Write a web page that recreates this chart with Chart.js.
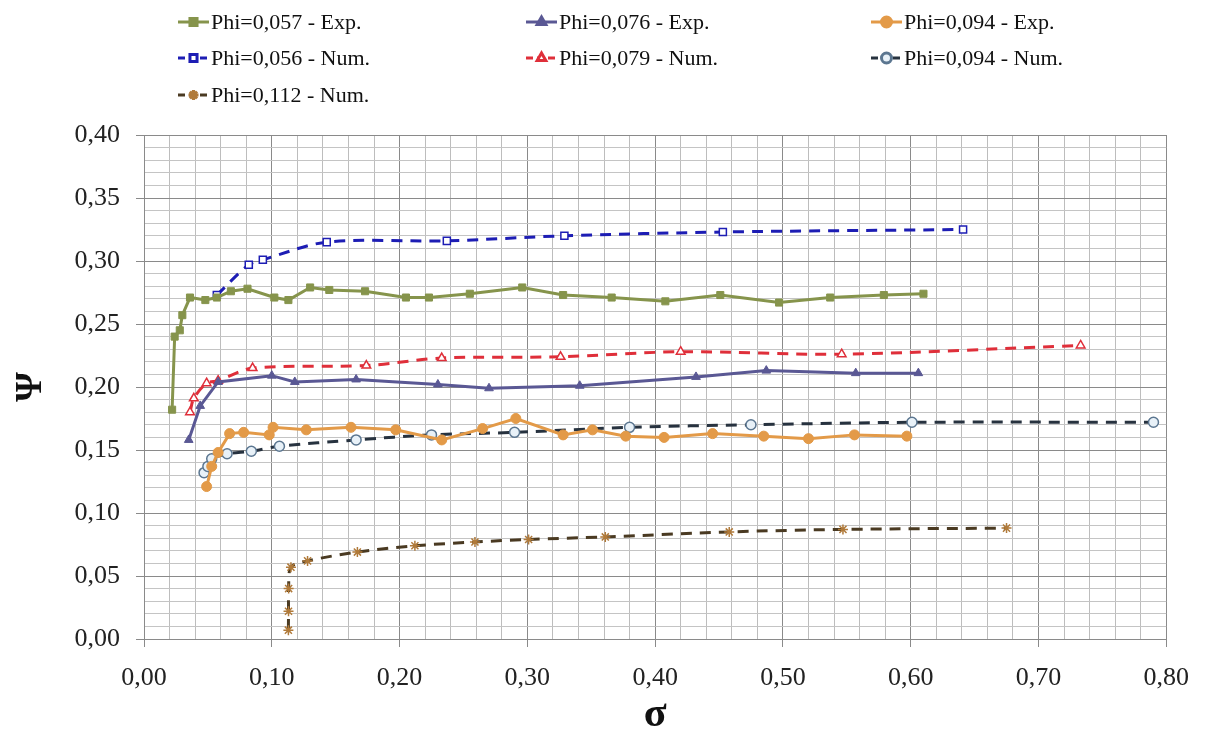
<!DOCTYPE html>
<html>
<head>
<meta charset="utf-8">
<script src="https://cdn.jsdelivr.net/npm/chart.js@4.4.1/dist/chart.umd.min.js"></script>
<style>
  html, body { margin: 0; padding: 0; background: #fff; }
  #wrap { position: relative; width: 1205px; height: 736px; }
</style>
</head>
<body>
<div id="wrap"><canvas id="psi"></canvas></div>
<script>
// series labels (legend order)
var labels = ['Phi=0,057 - Exp.', 'Phi=0,076 - Exp.', 'Phi=0,094 - Exp.',
              'Phi=0,056 - Num.', 'Phi=0,079 - Num.', 'Phi=0,094 - Num.',
              'Phi=0,112 - Num.'];

//! Phi=0,057 - Exp.
var sig057e = [0.022, 0.024, 0.028, 0.030, 0.036, 0.048, 0.057, 0.068, 0.081, 0.102, 0.113, 0.130, 0.145, 0.173, 0.205, 0.223, 0.255, 0.296, 0.328, 0.366, 0.408, 0.451, 0.497, 0.537, 0.579, 0.610];
var psi057e = [0.182, 0.240, 0.245, 0.257, 0.271, 0.269, 0.271, 0.276, 0.278, 0.271, 0.269, 0.279, 0.277, 0.276, 0.271, 0.271, 0.274, 0.279, 0.273, 0.271, 0.268, 0.273, 0.267, 0.271, 0.273, 0.274];

//! Phi=0,076 - Exp.
var sig076e = [0.035, 0.044, 0.058, 0.100, 0.118, 0.166, 0.230, 0.270, 0.341, 0.432, 0.487, 0.557, 0.606];
var psi076e = [0.158, 0.185, 0.204, 0.209, 0.204, 0.206, 0.202, 0.199, 0.201, 0.208, 0.213, 0.211, 0.211];

//! Phi=0,094 - Exp.
var sig094e = [0.049, 0.053, 0.058, 0.067, 0.078, 0.098, 0.101, 0.127, 0.162, 0.197, 0.233, 0.265, 0.291, 0.328, 0.351, 0.377, 0.407, 0.445, 0.485, 0.520, 0.556, 0.597];
var psi094e = [0.121, 0.137, 0.148, 0.163, 0.164, 0.162, 0.168, 0.166, 0.168, 0.166, 0.158, 0.167, 0.175, 0.162, 0.166, 0.161, 0.160, 0.163, 0.161, 0.159, 0.162, 0.161];

//! Phi=0,056 - Num.
var sig056n = [0.057, 0.082, 0.093, 0.143, 0.237, 0.329, 0.453, 0.641];
var psi056n = [0.273, 0.297, 0.301, 0.315, 0.316, 0.320, 0.323, 0.325];

//! Phi=0,079 - Num.
var sig079n = [0.036, 0.039, 0.049, 0.058, 0.085, 0.174, 0.233, 0.326, 0.420, 0.546, 0.733];
var psi079n = [0.180, 0.191, 0.203, 0.205, 0.215, 0.217, 0.223, 0.224, 0.228, 0.226, 0.233];

//! Phi=0,094 - Num.
var sig094n = [0.047, 0.050, 0.053, 0.065, 0.084, 0.106, 0.166, 0.225, 0.290, 0.380, 0.475, 0.601, 0.790];
var psi094n = [0.132, 0.137, 0.143, 0.147, 0.149, 0.153, 0.158, 0.162, 0.164, 0.168, 0.170, 0.172, 0.172];

//! Phi=0,112 - Num.
var sig112n = [0.113, 0.1131, 0.1132, 0.115, 0.128, 0.167, 0.212, 0.259, 0.301, 0.361, 0.458, 0.547, 0.675];
var psi112n = [0.007, 0.022, 0.040, 0.057, 0.062, 0.069, 0.074, 0.077, 0.079, 0.081, 0.085, 0.087, 0.088];

function pts(xs, ys) {
    return xs.map(function (x, i) { return { x: x, y: ys[i] }; });
}
function fmt(v) {
    return v.toFixed(2).replace('.', ',');
}

var SERIF = "'Liberation Serif', 'Times New Roman', serif";

// legend drawn on the canvas, 3 columns like the original
var gridLegend = {
    id: 'gridLegend',
    afterDraw: function (chart) {
        var ctx = chart.ctx;
        var colX = [178, 526, 871];
        var rowY = [22, 58, 95];
        chart.data.datasets.forEach(function (ds, i) {
            var x = colX[i % 3];
            var y = rowY[Math.floor(i / 3)];
            ctx.save();
            ctx.strokeStyle = ds.borderColor;
            ctx.lineWidth = 3;
            ctx.setLineDash(ds.borderDash ? [7, 4] : []);
            ctx.beginPath();
            ctx.moveTo(x, y);
            ctx.lineTo(x + 31, y);
            ctx.stroke();
            ctx.setLineDash([]);
            ctx.fillStyle = ds.pointBackgroundColor;
            ctx.strokeStyle = ds.pointBorderColor;
            Chart.helpers.drawPoint(ctx, {
                pointStyle: ds.pointStyle,
                radius: ds.pointRadius,
                borderWidth: ds.pointBorderWidth,
                rotation: 0
            }, x + 15.5, y);
            ctx.fillStyle = '#111';
            ctx.font = '22px ' + SERIF;
            ctx.textBaseline = 'middle';
            ctx.fillText(ds.label, x + 33, y + 1);
            ctx.restore();
        });
    }
};

var whiteBg = {
    id: 'whiteBg',
    beforeDraw: function (chart) {
        var ctx = chart.ctx;
        ctx.save();
        ctx.fillStyle = '#fff';
        ctx.fillRect(0, 0, chart.width, chart.height);
        ctx.restore();
    }
};

function expSet(label, xs, ys, color, style) {
    return {
        label: label, data: pts(xs, ys),
        borderColor: color, borderWidth: 3, tension: 0,
        pointStyle: style, pointRadius: 5, pointBorderWidth: 1,
        pointBackgroundColor: color, pointBorderColor: color
    };
}
function numSet(label, xs, ys, color, style, fill, mark) {
    return {
        label: label, data: pts(xs, ys),
        borderColor: color, borderWidth: 3, borderDash: [11, 8], tension: 0.3,
        pointStyle: style, pointRadius: 5, pointBorderWidth: 1.5,
        pointBackgroundColor: fill, pointBorderColor: mark || color
    };
}

var psiCtx = document.getElementById('psi').getContext('2d');
var psiChart = new Chart(psiCtx, {
    type: 'line',
    data: {
        datasets: [
            expSet(labels[0], sig057e, psi057e, '#86944c', 'rect'),
            expSet(labels[1], sig076e, psi076e, '#5a5894', 'triangle'),
            expSet(labels[2], sig094e, psi094e, '#e39a48', 'circle'),
            numSet(labels[3], sig056n, psi056n, '#1d1db4', 'rect', '#ffffff'),
            numSet(labels[4], sig079n, psi079n, '#df2f3a', 'triangle', '#ffffff'),
            numSet(labels[5], sig094n, psi094n, '#27323f', 'circle', '#e8f1f8', '#5b7690'),
            numSet(labels[6], sig112n, psi112n, '#4a3a22', 'star', '#b07a3a', '#b07a3a')
        ]
    },
    options: {
        responsive: true,
        maintainAspectRatio: false,
        animation: false,
        layout: { padding: { top: 135, right: 37, left: 0, bottom: 0 } },
        plugins: {
            legend: { display: false },
            tooltip: { enabled: false }
        },
        scales: {
            x: {
                type: 'linear',
                min: 0, max: 0.8,
                afterFit: function (s) { s.height = 97; },
                ticks: {
                    stepSize: 0.02, autoSkip: false, maxRotation: 0, padding: 16,
                    color: '#222', font: { family: SERIF, size: 26 },
                    callback: function (v) { return Math.round(v * 100) % 10 === 0 ? fmt(v) : ''; }
                },
                grid: {
                    color: function (c) { return Math.round(c.tick.value * 100) % 10 === 0 ? '#8a8a8a' : '#bdbdbd'; },
                    tickColor: function (c) { return Math.round(c.tick.value * 100) % 10 === 0 ? '#8a8a8a' : 'rgba(0,0,0,0)'; },
                    tickLength: 8
                },
                border: { color: '#8a8a8a' },
                title: {
                    display: true, text: 'σ', color: '#111',
                    font: { family: SERIF, size: 42, weight: 'bold', lineHeight: 1 },
                    padding: { top: 0, bottom: 0 }
                }
            },
            y: {
                min: 0, max: 0.4,
                afterFit: function (s) { s.width = 144; },
                ticks: {
                    stepSize: 0.01, autoSkip: false, padding: 16,
                    color: '#222', font: { family: SERIF, size: 26 },
                    callback: function (v) { return Math.round(v * 100) % 5 === 0 ? fmt(v) : ''; }
                },
                grid: {
                    color: function (c) { return Math.round(c.tick.value * 100) % 5 === 0 ? '#8a8a8a' : '#c4c4c4'; },
                    tickColor: function (c) { return Math.round(c.tick.value * 100) % 5 === 0 ? '#8a8a8a' : 'rgba(0,0,0,0)'; },
                    tickLength: 8
                },
                border: { color: '#8a8a8a' },
                title: {
                    display: true, text: 'Ψ', color: '#111',
                    font: { family: SERIF, size: 38, weight: 'bold', lineHeight: 1.2 },
                    padding: { top: 8, bottom: 0 }
                }
            }
        }
    },
    plugins: [whiteBg, gridLegend]
});
</script>
</body>
</html>
